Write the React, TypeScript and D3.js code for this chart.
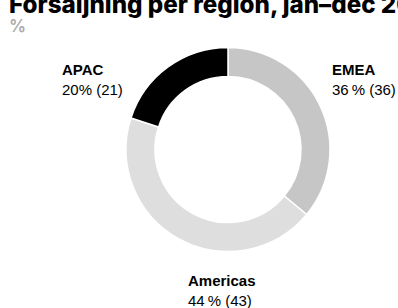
import * as d3 from 'd3';

const regions = ['EMEA', 'Americas', 'APAC'];
const shares = [36, 44, 20];
const counts = [36, 43, 21];
const shareText = ['36\u2009%', '44\u2009%', '20%'];
const colors = ['#c6c6c6', '#dedede', '#000000'];

const title = 'Försäljning per region, jan–dec 2023';
const unit = '%';

const width = 398;
const height = 308;
const cx = 228;
const cy = 149.5;
const outer = 102;
const inner = 73;

export default function App() {
  const pie = d3.pie<number>().sort(null).value(d => d);
  const arcs = pie(shares);
  const arc = d3.arc<d3.PieArcDatum<number>>().innerRadius(inner).outerRadius(outer);

  // place each label on the side its slice points to
  const labelPos = (a: d3.PieArcDatum<number>) => {
    const mid = (a.startAngle + a.endAngle) / 2;
    const sx = Math.sin(mid);
    const sy = -Math.cos(mid);
    if (sy > 0.6) return { x: cx - 40, y: cy + outer + 34 };
    if (sx > 0) return { x: cx + outer + 2, y: cy - 75 };
    return { x: cx - outer - 64, y: cy - 75 };
  };

  return (
    <svg
      width={width}
      height={height}
      style={{ position: 'absolute', left: 0, top: 0, fontFamily: '"Liberation Sans", Arial, sans-serif' }}
    >
      <text x={9} y={13} fontSize={24.2} fontWeight={800} fontFamily="Inter, sans-serif" fill="#000">{title}</text>
      <text x={9} y={32} fontSize={17} fontWeight={600} fontFamily="Inter, sans-serif" fill="#aaaaaa">{unit}</text>
      <g transform={`translate(${cx},${cy})`}>
        {arcs.map((a, i) => (
          <path key={regions[i]} d={arc(a) || ''} fill={colors[i]} stroke="#fff" strokeWidth={1.5} />
        ))}
      </g>
      {arcs.map((a, i) => {
        const p = labelPos(a);
        return (
          <g key={'l' + regions[i]}>
            <text x={p.x} y={p.y} fontSize={15} fontWeight="bold" fill="#000">{regions[i]}</text>
            <text x={p.x} y={p.y + 20} fontSize={15} fill="#000">{`${shareText[i]} (${counts[i]})`}</text>
          </g>
        );
      })}
    </svg>
  );
}
